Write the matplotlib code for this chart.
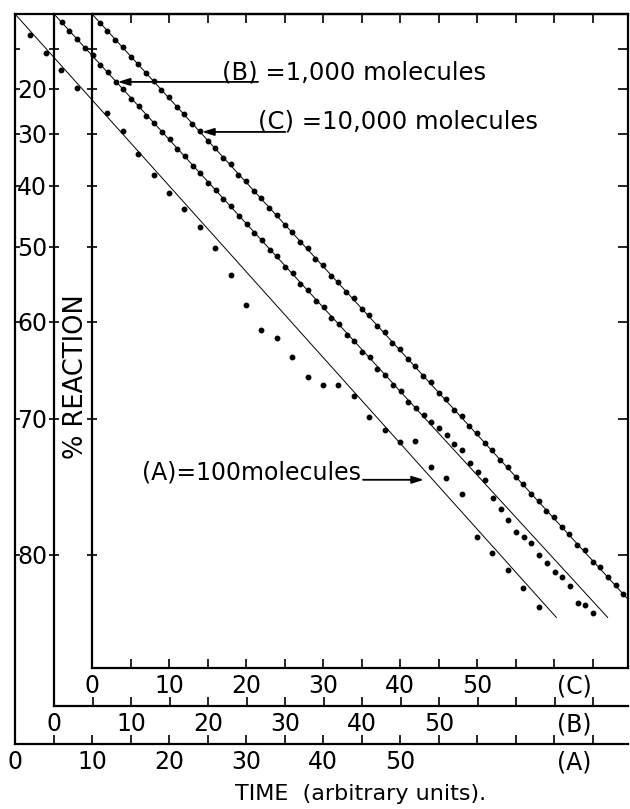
import numpy as np
import matplotlib
matplotlib.use('Agg')
import matplotlib.pyplot as plt

# % reaction
a_time = [2, 4, 6, 8, 12, 14, 16, 18, 20, 22, 24, 26, 28, 30, 32, 34, 36,
          38, 40, 42, 44, 46, 48, 50, 52, 54, 56, 58, 60, 62, 64, 66, 68]
a_pct = [6.1, 10.9, 15.4, 19.8, 25.5, 29.4, 34.1, 38.1, 41.3, 44.0, 46.9,
         50.2, 54.0, 57.9, 60.9, 61.9, 64.0, 66.1, 66.9, 66.9, 67.9, 69.9,
         71.0, 72.0, 71.9, 74.0, 74.9, 76.0, 78.9, 79.9, 80.9, 81.9, 82.9]

b_time = list(range(1, 71))
b_pct = [2.4, 5.0, 7.1, 9.6, 11.6, 14.1, 15.9, 18.3, 20.0, 22.3, 23.9, 26.1,
         27.6, 29.7, 31.1, 33.1, 34.5, 36.4, 37.7, 39.5, 40.7, 42.4, 43.6,
         45.2, 46.4, 47.9, 49.0, 50.5, 51.4, 52.9, 53.8, 55.2, 56.0, 57.4,
         58.2, 59.5, 60.2, 61.5, 62.2, 63.4, 64.0, 65.2, 65.8, 66.9, 67.4,
         68.5, 69.0, 69.7, 70.3, 70.8, 71.4, 72.2, 72.7, 73.7, 74.4, 75.0,
         76.3, 77.1, 77.8, 78.6, 78.9, 79.3, 80.0, 80.5, 81.0, 81.3, 81.8,
         82.7, 82.8, 83.2]

c_time = list(range(1, 70))
c_pct = [2.6, 4.8, 7.4, 9.4, 11.9, 13.8, 16.2, 18.0, 20.3, 22.0, 24.2, 25.8,
         27.9, 29.4, 31.4, 32.8, 34.8, 36.1, 38.0, 39.2, 41.0, 42.2, 43.9,
         45.0, 46.6, 47.7, 49.2, 50.2, 51.7, 52.6, 54.1, 54.9, 56.3, 57.1,
         58.4, 59.2, 60.5, 61.2, 62.4, 63.1, 64.2, 64.9, 66.0, 66.6, 67.6,
         68.2, 69.2, 69.8, 70.7, 71.3, 72.1, 72.7, 73.5, 74.0, 74.8, 75.3,
         76.0, 76.5, 77.2, 77.6, 78.3, 78.7, 79.4, 79.7, 80.4, 80.7, 81.3,
         81.7, 82.2]

# straight first-order lines (start, end)
a_line_time = [0, 70.3]
a_line_pct = [0, 83.4]
b_line_time = [0, 71.9]
b_line_pct = [0, 83.4]
c_line_time = [0, 72]
c_line_pct = [0, 83.5]

series_names = ['(A)', '(B)', '(C)']
series_labels = ['(A)=100molecules', '(B) =1,000 molecules', '(C) =10,000 molecules']

y_ticks = [10, 20, 30, 40, 50, 60, 70, 80]
y_tick_labels = ['', '20', '30', '40', '50', '60', '70', '80']
x_ticks = list(range(0, 80, 5))
x_tick_labels = ['0', '', '10', '', '20', '', '30', '', '40', '', '50', '', '', '', '', '']


def fwd(p):
    p = np.clip(np.asarray(p, dtype=float), -50, 99.99)
    return -np.log(1 - p / 100)


def inv(u):
    return 100 * (1 - np.exp(-np.asarray(u, dtype=float)))


# layout in pixels of the 630x809 picture
W, H = 630, 809
PX_T = 7.7    # px per time unit
PX_U = 336    # px per unit of -ln(1-p)
TOP, RIGHT = 14, 628
frames = {'(A)': (15, 744), '(B)': (54, 706), '(C)': (92, 668)}
NAME_X = 574  # where (A) (B) (C) sit under the axes

plt.rcParams['font.family'] = ['DejaVu Sans']
fig = plt.figure(figsize=(W / 100, H / 100), dpi=100)

axes = {}
for name in series_names:
    left, bottom = frames[name]
    ax = fig.add_axes([left / W, 1 - bottom / H, (RIGHT - left) / W, (bottom - TOP) / H])
    ax.set_facecolor('none')
    ax.set_yscale('function', functions=(fwd, inv))
    for s in ax.spines.values():
        s.set_linewidth(1.6)
    # ticks first, limits after (set_xticks would widen the view)
    ax.set_xticks(x_ticks)
    ax.set_xticklabels(x_tick_labels, fontsize=17)
    ax.tick_params(axis='x', direction='in', length=6.5, width=1.2, pad=4.5)
    ax.set_yticks(y_ticks)
    ax.set_xlim(0, (RIGHT - left) / PX_T)
    ax.set_ylim(inv((bottom - TOP) / PX_U), 0)
    ax.annotate(name, xy=((NAME_X - left) / PX_T, 0), xycoords=('data', 'axes fraction'),
                xytext=(0, -4.5), textcoords='offset points', ha='center', va='top',
                fontsize=17)
    axes[name] = ax

ax_a, ax_b, ax_c = axes['(A)'], axes['(B)'], axes['(C)']

# A: outermost frame, carries top spine and x label
ax_a.spines['right'].set_visible(False)
ax_a.set_yticklabels([])
ax_a.tick_params(axis='y', direction='in', length=3.5, width=1.2)
ax_a.set_xlabel('TIME  (arbitrary units).', fontsize=16)
ax_a.xaxis.set_label_coords((361 - 15) / (RIGHT - 15), -0.055)

# B: carries the y tick labels
ax_b.spines['right'].set_visible(False)
ax_b.spines['top'].set_visible(False)
ax_b.set_yticklabels(y_tick_labels, fontsize=17)
ax_b.tick_params(axis='y', direction='inout', length=7, width=1.2, pad=1.5)

# C: inner frame, ticks on all sides
ax_c.set_yticklabels([])
ax_c.tick_params(axis='y', which='major', direction='inout', length=7, width=1.2)
ax_c.yaxis.remove_overlapping_locs = False
ax_c.set_yticks(y_ticks, minor=True)
ax_c.tick_params(axis='y', which='minor', left=False, right=True,
                 direction='in', length=7, width=1.2)
ax_c.tick_params(axis='x', top=True)
ax_c.set_xlim(0, (RIGHT - 92) / PX_T)
ax_c.set_ylabel('% REACTION', fontsize=18.5)
ax_c.yaxis.set_label_coords(-0.006, 0.445)

# lines and dots
ax_a.plot(a_line_time, a_line_pct, color='black', lw=0.7)
ax_a.plot(a_time, a_pct, 'o', color='black', ms=3.2)
ax_b.plot(b_line_time, b_line_pct, color='black', lw=0.7)
ax_b.plot(b_time, b_pct, 'o', color='black', ms=3.2)
ax_c.plot(c_line_time, c_line_pct, color='black', lw=0.7)
ax_c.plot(c_time, c_pct, 'o', color='black', ms=3.2)

arrow = dict(arrowstyle='-|>,head_length=0.7,head_width=0.22', color='black',
             lw=1.3, shrinkA=0, shrinkB=0)

ax_b.text(21.8, 17.8, series_labels[1], fontsize=17.5, va='baseline')
ax_b.annotate('', xy=(8.3, 18.3), xytext=(26.5, 18.3), arrowprops=arrow)

ax_c.text(21.6, 28.8, series_labels[2], fontsize=17.5, va='baseline')
ax_c.annotate('', xy=(14.3, 29.6), xytext=(25.1, 29.6), arrowprops=arrow)

ax_a.text(16.5, 75.0, series_labels[0], fontsize=17, va='baseline')
ax_a.annotate('', xy=(53.1, 75.0), xytext=(45.2, 75.0), arrowprops=arrow)

fig.savefig('out.png', dpi=100)
